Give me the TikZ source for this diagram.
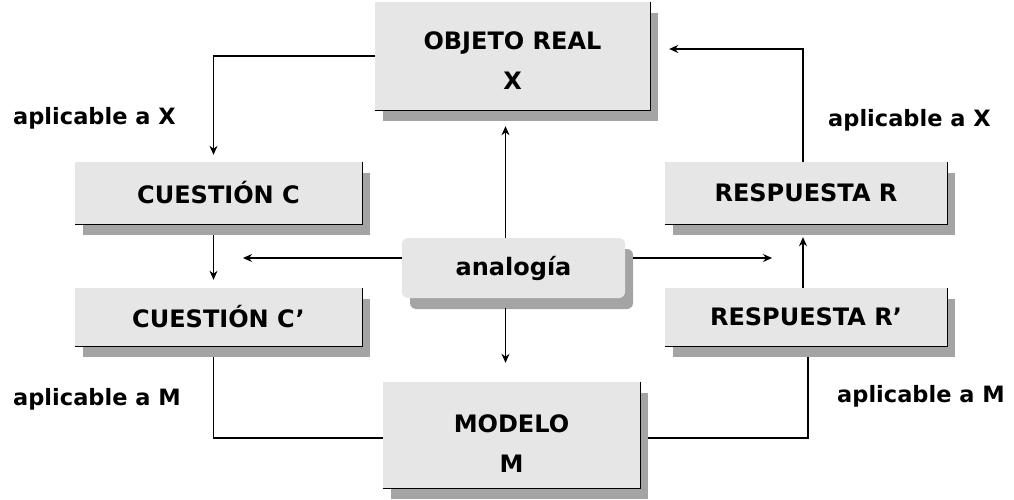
\documentclass[tikz,border=0pt]{standalone}
\usepackage{fontspec}
\setmainfont{DejaVu Sans}
\usetikzlibrary{arrows.meta}
\definecolor{facegray}{HTML}{E6E6E6}
\definecolor{shadegray}{HTML}{A4A4A4}
\tikzset{
  box/.style={fill=facegray, inner sep=0pt, align=center, font=\fontsize{24}{40}\selectfont\bfseries,
    preaction={fill=shadegray, transform canvas={shift={(8pt,-11pt)}}}},
  edge/.style={black, line width=1.2pt},
  conn/.style={black, line width=1.2pt},
  arr/.style={conn, -{Stealth[length=9pt,width=8pt]}},
  lbl/.style={font=\fontsize{22.5}{28}\selectfont\bfseries, inner sep=0pt},
}
\begin{document}
\begin{tikzpicture}[x=1pt,y=-1pt]
\useasboundingbox (0,0) rectangle (1014,500);
% boxes
\node[box, minimum width=275pt, minimum height=108pt] (obj) at (512.5,56) {\rule{0pt}{28pt}OBJETO REAL\\X};
\node[box, minimum width=287pt, minimum height=62pt] (cc) at (218.5,193) {CUESTIÓN C};
\node[box, minimum width=287pt, minimum height=58pt] (cc2) at (218.5,317) {CUESTIÓN C'};
\node[box, minimum width=282pt, minimum height=62pt] (rr) at (806,193) {RESPUESTA R};
\node[box, minimum width=282pt, minimum height=58pt] (rr2) at (806,317) {RESPUESTA R'};
\node[box, rounded corners=6pt, minimum width=223pt, minimum height=60pt] (ana) at (513.5,268) {analogía};
\node[box, minimum width=257pt, minimum height=106pt] (mod) at (511.5,435) {\rule{0pt}{34pt}MODELO\\M};
\foreach \n in {obj,cc,cc2,rr,rr2,mod}
  \draw[edge] (\n.south west) -- (\n.south east) -- (\n.north east);
% labels
\node[lbl, anchor=west] (lx1) at (13,118) {aplicable a X};
\node[lbl, anchor=west] (lx2) at (828,120) {aplicable a X};
\node[lbl, anchor=west] (lm1) at (13,399) {aplicable a M};
\node[lbl, anchor=west] (lm2) at (837,396) {aplicable a M};
% free ends
\coordinate (lend) at (243,258);
\coordinate (rend) at (772,258);
% connectors
\draw[arr, shorten >=7pt] (obj.west) -| ([xshift=-5pt]cc.north);
\draw[arr, shorten >=19pt] ([xshift=-3pt]rr.north) |- ([yshift=7pt]obj.east);
\draw[arr, shorten <=11pt, shorten >=8pt] ([xshift=-5pt]cc.south) -- ([xshift=-5pt]cc2.north);
\draw[arr, shorten >=13pt] ([xshift=-3pt]rr2.north) -- ([xshift=-3pt]rr.south);
\draw[arr] ([yshift=10pt]ana.west) -- (lend);
\draw[arr, shorten <=8pt] ([yshift=10pt]ana.east) -- (rend);
\draw[arr, shorten >=16pt] ([xshift=-8pt]ana.north) -- ([xshift=-8pt]ana.north |- obj.south);
\draw[arr, shorten <=10pt, shorten >=19pt] ([xshift=-8pt]ana.south) -- ([xshift=-8pt]ana.south |- mod.north);
\draw[conn, shorten >=11pt] ([yshift=-3pt]mod.west) -| ([xshift=-5pt]cc2.south);
\draw[conn, shorten <=8pt, shorten >=11pt] ([yshift=-3pt]mod.east) -| ([xshift=2pt]rr2.south);
\end{tikzpicture}
\end{document}
